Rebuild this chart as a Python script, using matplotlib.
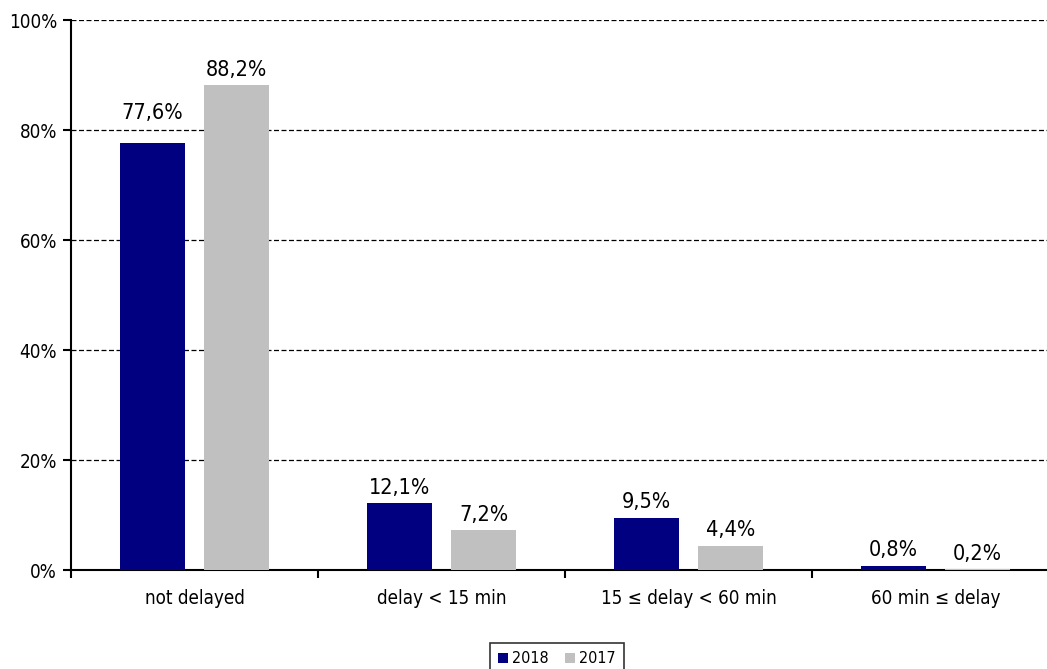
import matplotlib
matplotlib.use("Agg")
import matplotlib.pyplot as plt
import numpy as np

categories = ["not delayed", "delay < 15 min", "15 \u2264 delay < 60 min", "60 min \u2264 delay"]
series_names = ["2018", "2017"]
values_2018 = [77.6, 12.1, 9.5, 0.8]
values_2017 = [88.2, 7.2, 4.4, 0.2]
yticks = [0, 20, 40, 60, 80, 100]

plt.rcParams["font.family"] = ["DejaVu Sans"]
plt.rcParams["font.stretch"] = "condensed"

W, H = 1047, 669
fig = plt.figure(figsize=(W / 100, H / 100), dpi=100)
left, right, top, bottom = 71, 1047, 20, 570
ax = fig.add_axes([left / W, 1 - bottom / H, (right - left) / W, (bottom - top) / H])

x = np.arange(len(categories))
cat_px = 247
bw = 65 / cat_px
off = 42 / cat_px
colors = ["#000080", "#C0C0C0"]
# label lift above bar top (data units); first 2018 label sits higher in the original
lift_2018 = [5.5, 2.8, 2.8, 2.8]
lift_2017 = [2.8, 2.8, 2.8, 2.8]
for vals, o, c, name, lifts in [(values_2018, -off, colors[0], series_names[0], lift_2018),
                                (values_2017, off, colors[1], series_names[1], lift_2017)]:
    bars = ax.bar(x + o, vals, bw, color=c, label=name, zorder=3)
    for b, v, l in zip(bars, vals, lifts):
        ax.text(b.get_x() + b.get_width() / 2, v + l, f"{v:.1f}%".replace(".", ","),
                ha="center", va="center", fontsize=15.5)

ax.set_ylim(0, 100)
ax.set_yticks(yticks)
ax.set_yticklabels([f"{t}%" for t in yticks], fontsize=13.5)
ax.yaxis.grid(True, linestyle=(0, (4, 2)), color="black", linewidth=0.9, zorder=0)
ax.set_xticks(np.arange(len(categories) + 1) - 0.5)
ax.set_xticklabels([])
ax.set_xticks(x, minor=True)
ax.set_xticklabels(categories, minor=True, fontsize=13.5)
ax.set_xlim(-0.5, -0.5 + (right - left) / cat_px)
ax.tick_params(axis="x", which="minor", length=0, pad=14)
ax.tick_params(axis="x", which="major", length=6, width=1.5, direction="out")
ax.tick_params(axis="y", length=6, width=1.5, direction="out", pad=4)
for s in ["top", "right"]:
    ax.spines[s].set_visible(False)
ax.spines["left"].set_linewidth(1.5)
ax.spines["bottom"].set_linewidth(1.5)

leg = fig.legend(loc="lower center", bbox_to_anchor=(557 / W, -0.02), ncol=2, fontsize=11.5,
                 frameon=True, fancybox=False, edgecolor="black", handlelength=0.6,
                 handleheight=0.6, handletextpad=0.3, columnspacing=1.0, borderpad=0.5)
leg.get_frame().set_linewidth(1.2)

fig.savefig("out.png", dpi=100)
